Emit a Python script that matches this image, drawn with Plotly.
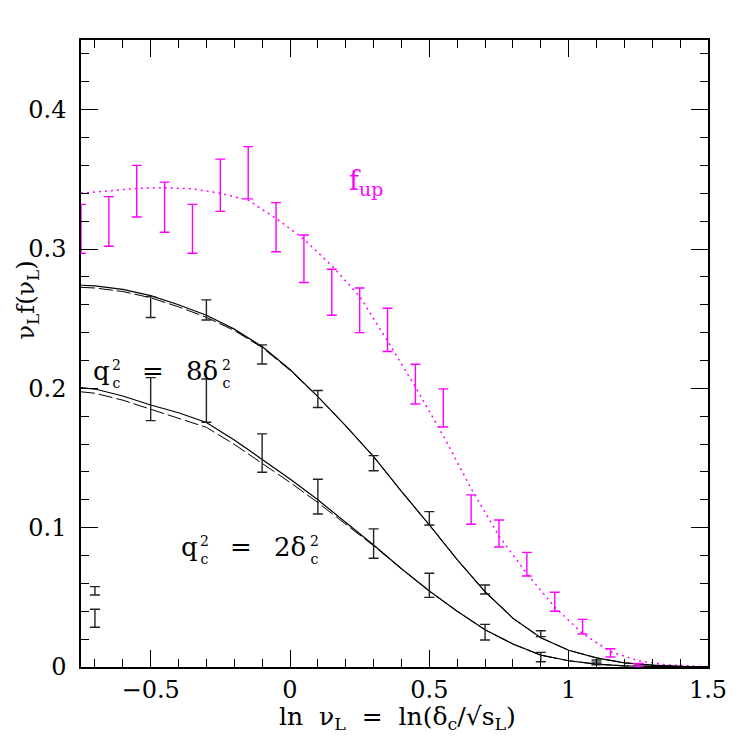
import plotly.graph_objects as go

# ---------------- data ----------------
# magenta f_up points (x, lower, upper)
up_x = [-0.75, -0.65, -0.55, -0.45, -0.35, -0.25, -0.15, -0.05, 0.05, 0.15, 0.25,
        0.35, 0.45, 0.55, 0.65, 0.75, 0.85, 0.95, 1.05, 1.15, 1.25]
up_lo = [0.297, 0.302, 0.323, 0.312, 0.297, 0.327, 0.336, 0.298, 0.276, 0.2525, 0.240,
         0.2264, 0.1888, 0.1723, 0.1024, 0.0861, 0.0653, 0.040, 0.0237, 0.0072, 0.0005]
up_hi = [0.332, 0.3376, 0.360, 0.348, 0.332, 0.3645, 0.3735, 0.3333, 0.310, 0.2855, 0.272,
         0.2575, 0.2173, 0.1996, 0.1235, 0.1055, 0.0823, 0.0536, 0.0342, 0.0131, 0.0025]

# black points, q_c^2 = 8 delta_c^2
q8_x = [-0.7, -0.5, -0.3, -0.1, 0.1, 0.3, 0.5, 0.7, 0.9, 1.1]
q8_lo = [0.0517, 0.2508, 0.249, 0.2175, 0.1862, 0.1409, 0.1019, 0.0524, 0.0218, 0.0022]
q8_hi = [0.0577, 0.2658, 0.2635, 0.2312, 0.1984, 0.1517, 0.1115, 0.0589, 0.026, 0.005]

# black points, q_c^2 = 2 delta_c^2
q2_x = [-0.7, -0.5, -0.3, -0.1, 0.1, 0.3, 0.5, 0.7, 0.9, 1.1]
q2_lo = [0.0285, 0.1768, 0.1757, 0.1398, 0.1098, 0.078, 0.050, 0.0194, 0.0038, 0.0015]
q2_hi = [0.0414, 0.2077, 0.2067, 0.1673, 0.1347, 0.0991, 0.0673, 0.0306, 0.0105, 0.0035]

# model curves
curve_x = [-0.75, -0.7, -0.6, -0.5, -0.4, -0.3, -0.2, -0.1, 0.0, 0.1, 0.2, 0.3,
           0.4, 0.5, 0.6, 0.7, 0.8, 0.9, 1.0, 1.1, 1.2, 1.3, 1.4, 1.5]
q8_solid = [0.274, 0.2735, 0.271, 0.2665, 0.260, 0.2525, 0.2425, 0.230, 0.2135, 0.194,
            0.173, 0.151, 0.126, 0.102, 0.077, 0.054, 0.035, 0.021, 0.012, 0.0065,
            0.003, 0.0013, 0.0005, 0.0002]
q8_dash = [0.2725, 0.272, 0.2695, 0.265, 0.2585, 0.251, 0.2415, 0.2293, 0.213, 0.194,
           0.173, 0.151, 0.126, 0.102, 0.077, 0.054, 0.035, 0.021, 0.012, 0.0065,
           0.003, 0.0013, 0.0005, 0.0002]
q2_solid = [0.2005, 0.1995, 0.1945, 0.188, 0.1825, 0.1755, 0.163, 0.149, 0.135, 0.120,
            0.104, 0.0875, 0.0705, 0.0545, 0.040, 0.0267, 0.0165, 0.0085, 0.0045, 0.002,
            0.0008, 0.0003, 0.0001, 0.0]
q2_dash = [0.1975, 0.1965, 0.1915, 0.185, 0.179, 0.172, 0.1598, 0.146, 0.1325, 0.118,
           0.1025, 0.087, 0.0705, 0.0545, 0.040, 0.0267, 0.0165, 0.0085, 0.0045, 0.002,
           0.0008, 0.0003, 0.0001, 0.0]

fup_x = [-0.75, -0.65, -0.55, -0.45, -0.35, -0.25, -0.15, -0.05, 0.05, 0.15, 0.25, 0.35,
         0.45, 0.55, 0.65, 0.75, 0.85, 0.95, 1.05, 1.15, 1.25, 1.35, 1.45, 1.5]
fup_y = [0.340, 0.342, 0.3435, 0.344, 0.3432, 0.340, 0.335, 0.322, 0.307, 0.288, 0.266,
         0.234, 0.201, 0.166, 0.128, 0.094, 0.067, 0.043, 0.024, 0.011, 0.0045, 0.0015,
         0.0004, 0.0002]

x_tickvals = [-0.5, 0, 0.5, 1, 1.5]
x_ticktext = ["\u22120.5", "0", "0.5", "1", "1.5"]
y_tickvals = [0, 0.1, 0.2, 0.3, 0.4]
y_ticktext = ["0", "0.1", "0.2", "0.3", "0.4"]

MAG = "#ff00ff"
FONT = "DejaVu Serif, Liberation Serif, serif"

X0, X1 = -0.75, 1.5
Y0, Y1 = 0.0, 0.45
ML, MT, PW, PH = 73, 32, 627, 627   # plot-area placement (figure px)
OFF = 8                              # page body margin


def px2x(px):
    return X0 + (px - OFF - ML) / PW * (X1 - X0)


def py2y(py):
    return Y1 - (py - OFF - MT) / PH * (Y1 - Y0)


fig = go.Figure()


def err_trace(xs, lo, hi, color):
    mid = [(a + b) / 2 for a, b in zip(lo, hi)]
    half = [(b - a) / 2 for a, b in zip(lo, hi)]
    return go.Scatter(x=xs, y=mid, mode="markers",
                      marker=dict(size=1, color="rgba(0,0,0,0)"),
                      error_y=dict(type="data", array=half, symmetric=True,
                                   color=color, thickness=1.4, width=5),
                      showlegend=False, hoverinfo="skip", cliponaxis=False)


fig.add_trace(go.Scatter(x=fup_x, y=fup_y, mode="lines",
                         line=dict(color=MAG, width=1.5, dash="2px,4px"),
                         showlegend=False))
fig.add_trace(go.Scatter(x=curve_x, y=q8_dash, mode="lines",
                         line=dict(color="black", width=1, dash="14px,4px"),
                         showlegend=False))
fig.add_trace(go.Scatter(x=curve_x, y=q8_solid, mode="lines",
                         line=dict(color="black", width=1.2), showlegend=False))
fig.add_trace(go.Scatter(x=curve_x, y=q2_dash, mode="lines",
                         line=dict(color="black", width=1, dash="14px,4px"),
                         showlegend=False))
fig.add_trace(go.Scatter(x=curve_x, y=q2_solid, mode="lines",
                         line=dict(color="black", width=1.2), showlegend=False))

fig.add_trace(err_trace(up_x, up_lo, up_hi, MAG))
fig.add_trace(err_trace(q8_x, q8_lo, q8_hi, "#222222"))
fig.add_trace(err_trace(q2_x, q2_lo, q2_hi, "#222222"))

axis_common = dict(showgrid=False, zeroline=False, showline=True, linecolor="black",
                   linewidth=1.5, mirror="allticks", ticks="inside", ticklen=17,
                   tickwidth=1.2, tickcolor="black",
                   tickfont=dict(family=FONT, size=24, color="black"))

fig.update_xaxes(range=[X0, X1], tickvals=x_tickvals, ticktext=x_ticktext,
                 minor=dict(ticks="inside", ticklen=8, tickwidth=1.2, tickcolor="black",
                            dtick=0.1, tick0=0),
                 ticklabelstandoff=0, **axis_common)
fig.update_yaxes(range=[Y0, Y1], tickvals=y_tickvals, ticktext=y_ticktext,
                 minor=dict(ticks="inside", ticklen=8, tickwidth=1.2, tickcolor="black",
                            dtick=0.02, tick0=0),
                 ticklabelstandoff=8, **axis_common)


def label(px, py, text, size, color="black", xanchor="left", yanchor="bottom"):
    fig.add_annotation(x=px2x(px), y=py2y(py), xref="x", yref="y", showarrow=False,
                       text=text, xanchor=xanchor, yanchor=yanchor,
                       font=dict(family=FONT, size=size, color=color),
                       borderpad=0)


def qlabel(px, py, factor):
    # q_c^2 = <factor> delta_c^2 with stacked super/sub scripts; py is baseline
    label(px, py + 7, "q", 26)
    label(px + 19, py + 12, "2<br>c", 14)
    label(px + 49, py + 7, "=", 26)
    label(px + 93, py + 7, factor + "\u03b4", 26)
    label(px + 129, py + 12, "2<br>c", 14)


qlabel(92, 380, "8")
qlabel(180, 556, "2")

label(366, 182, "f<sub>up</sub>", 27, color=MAG, xanchor="center", yanchor="middle")

fig.add_annotation(x=0.505, y=-0.052, xref="paper", yref="paper", showarrow=False,
                   xanchor="center", yanchor="top",
                   text="ln  \u03bd<sub>L</sub>  =  ln(\u03b4<sub>c</sub>/\u221as<sub>L</sub>)",
                   font=dict(family=FONT, size=25, color="black"))
fig.add_annotation(x=-0.112, y=0.585, xref="paper", yref="paper", showarrow=False,
                   textangle=-90, xanchor="left", yanchor="middle", borderpad=0,
                   text="\u03bd<sub>L</sub>f(\u03bd<sub>L</sub>)",
                   font=dict(family=FONT, size=24, color="black"))

fig.update_layout(width=739, height=739, plot_bgcolor="white", paper_bgcolor="white",
                  margin=dict(l=ML, r=739 - ML - PW, t=MT, b=739 - MT - PH),
                  showlegend=False)

fig.write_html("out.html")
